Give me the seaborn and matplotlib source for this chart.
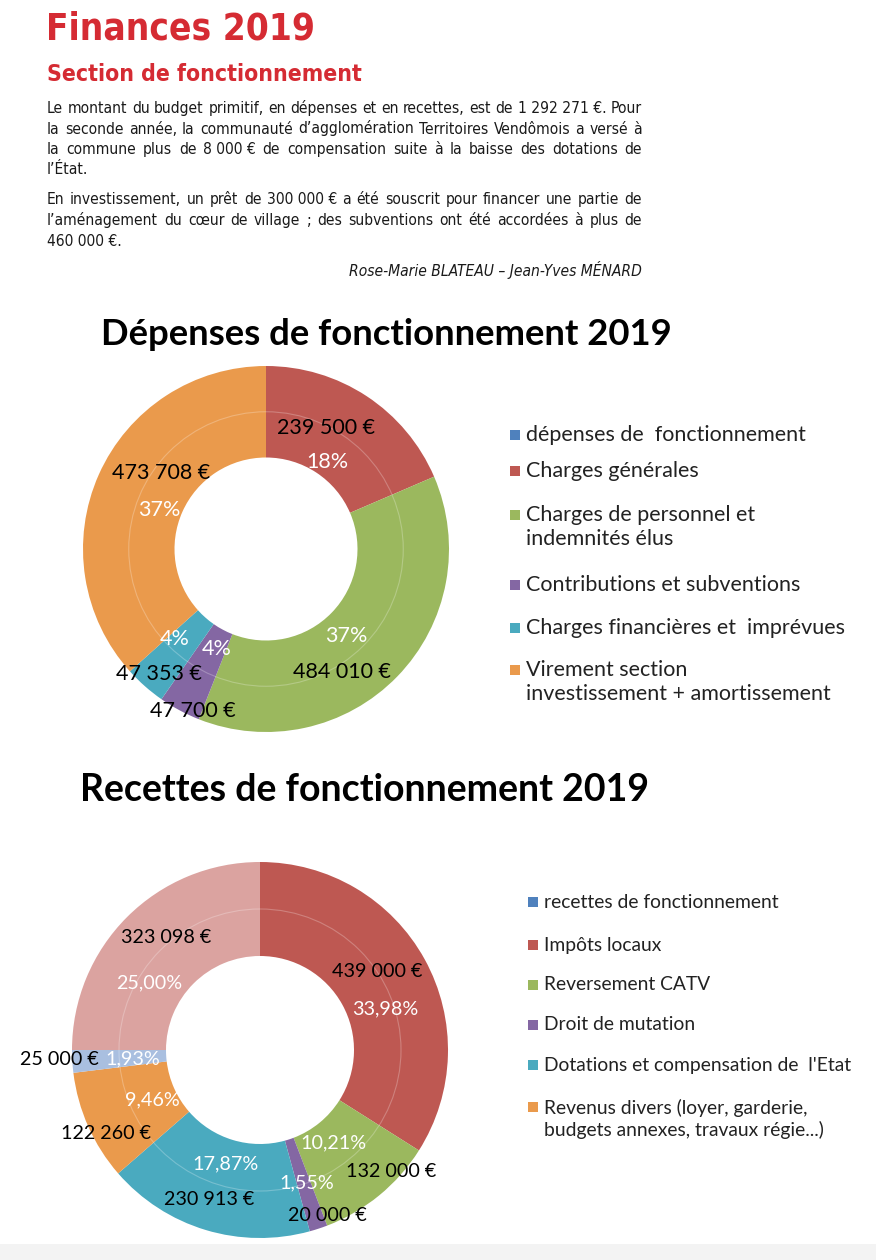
import matplotlib.pyplot as plt
import numpy as np
import seaborn as sns
from matplotlib.patches import Rectangle, Circle

W, H = 876, 1260

# --- données -------------------------------------------------------------
dep_labels = [
    "dépenses de  fonctionnement",
    "Charges générales",
    "Charges de personnel et\nindemnités élus",
    "Contributions et subventions",
    "Charges financières et  imprévues",
    "Virement section\ninvestissement + amortissement",
]
dep_values = [239500, 484010, 47700, 47353, 473708]
dep_pct = ["18%", "37%", "4%", "4%", "37%"]

rec_labels = [
    "recettes de fonctionnement",
    "Impôts locaux",
    "Reversement CATV",
    "Droit de mutation",
    "Dotations et compensation de  l'Etat",
    "Revenus divers (loyer, garderie,\nbudgets annexes, travaux régie...)",
]
rec_values = [439000, 132000, 20000, 230913, 122260, 25000, 323098]
rec_pct = ["33,98%", "10,21%", "1,55%", "17,87%", "9,46%", "1,93%", "25,00%"]

paragraph_1 = [
    "Le montant du budget primitif, en dépenses et en recettes, est de 1\u00a0292\u00a0271\u00a0€. Pour",
    "la seconde année, la communauté d’agglomération Territoires Vendômois a versé à",
    "la commune plus de 8\u00a0000\u00a0€ de compensation suite à la baisse des dotations de",
    "l’État.",
]
paragraph_2 = [
    "En investissement, un prêt de 300\u00a0000\u00a0€ a été souscrit pour financer une partie de",
    "l’aménagement du cœur de village ; des subventions ont été accordées à plus de",
    "460\u00a0000\u00a0€.",
]

# --- style ---------------------------------------------------------------
sns.set_theme(style="white")
plt.rcParams["font.family"] = ["Lato", "DejaVu Sans"]

series_blue = "#4F81BD"
dep_colors = sns.color_palette(["#BE5852", "#9BB85E", "#8467A3", "#4AAABF", "#EA9A4C"])
rec_colors = sns.color_palette(["#BE5852", "#9BB85E", "#8467A3", "#4AAABF", "#EA9A4C", "#A9BFE0", "#DBA3A0"])
red_title = "#D52B33"
narrow = dict(family=["DejaVu Sans"], stretch="condensed")

# positions des étiquettes : (rayon relatif, décalage angulaire en degrés)
dep_val_pos = [(0.74, -7), (0.79, 14), (0.97, -4), (0.90, -1), (0.71, 12)]
dep_pct_pos = [(0.58, 2), (0.645, 3), (0.61, -2), (0.70, 4), (0.62, -4)]
rec_val_pos = [(0.75, -5), (0.95, -8), (0.95, -4), (0.84, 2), (0.93, -4.5), (1.07, 0.7), (0.78, 5)]
rec_pct_pos = [(0.70, 10.6), (0.63, 1.2), (0.75, -1), (0.63, 0), (0.63, -1), (0.68, -0.5), (0.69, -14)]


def fx(x):
    return x / W


def fy(y):
    return 1 - y / H


def euro(v):
    return f"{v:,} €".replace(",", " ")


def donut(fig, cx, cy, r, values, colors, pcts, val_pos, pct_pos, size):
    s = r * 1.15
    ax = fig.add_axes([fx(cx - s), fy(cy + s), 2 * s / W, 2 * s / H])
    ax.pie(values, colors=colors, startangle=90, counterclock=False, radius=1,
           wedgeprops=dict(width=0.5, linewidth=0))
    ax.add_patch(Circle((0, 0), 0.75, fill=False, ec="white", lw=0.8, alpha=0.25))
    ax.set_xlim(-1.15, 1.15)
    ax.set_ylim(-1.15, 1.15)
    ax.axis("off")
    frac = np.array(values) / np.sum(values)
    mids = (np.cumsum(frac) - frac / 2) * 360
    for v, p, m, (rv, av), (rp, ap) in zip(values, pcts, mids, val_pos, pct_pos):
        a = np.radians(m + av)
        ax.text(rv * np.sin(a), rv * np.cos(a), euro(v), ha="center", va="center",
                fontsize=size, color="black")
        a = np.radians(m + ap)
        ax.text(rp * np.sin(a), rp * np.cos(a), p, ha="center", va="center",
                fontsize=size, color="white")
    return ax


def legend(fig, labels, colors, ys, x_sq, size):
    for lab, col, y in zip(labels, colors, ys):
        fig.patches.append(Rectangle((fx(x_sq), fy(y + 5)), 10 / W, 10 / H,
                                     transform=fig.transFigure, color=col, lw=0))
        n = lab.count("\n")
        fig.text(fx(x_sq + 16), fy(y + n * 12), lab, ha="left", va="center",
                 fontsize=size, color="#222222", linespacing=1.25)


def line_width(fig, renderer, line, **kw):
    t = fig.text(0, 0, line, **kw)
    w = t.get_window_extent(renderer).width
    t.remove()
    return w


def justify(fig, renderer, line, base, x0, x1, **kw):
    words = line.split(" ")
    texts = [fig.text(fx(x0), fy(base), w, va="baseline", **kw) for w in words]
    widths = [t.get_window_extent(renderer).width for t in texts]
    gap = (x1 - x0 - sum(widths)) / (len(words) - 1)
    x = x0
    for t, w in zip(texts, widths):
        t.set_x(fx(x))
        x += w + gap


fig = plt.figure(figsize=(W / 100, H / 100), dpi=100)
fig.patch.set_facecolor("white")
renderer = fig.canvas.get_renderer()

# --- en-tête -------------------------------------------------------------
fig.text(fx(46), fy(39), "Finances 2019", weight="bold",
         fontsize=26.5, color=red_title, va="baseline", **narrow)
fig.text(fx(47), fy(81), "Section de fonctionnement", weight="bold",
         fontsize=16.5, color=red_title, va="baseline", **narrow)

# taille du texte courant : ajustée pour que la ligne la plus longue tienne dans la colonne
body = dict(fontsize=13, color="#1a1a1a", **narrow)
widest = max(line_width(fig, renderer, l, **body) for l in paragraph_1[:-1] + paragraph_2[:-1])
body["fontsize"] = min(13, 13 * 592 / widest)

for lines, bases in [(paragraph_1, [113, 133.5, 154, 174.5]), (paragraph_2, [204, 225, 245.5])]:
    for i, (line, b) in enumerate(zip(lines, bases)):
        if i < len(lines) - 1:
            justify(fig, renderer, line, b, 47, 642, **body)
        else:
            fig.text(fx(47), fy(b), line, va="baseline", **body)
fig.text(fx(642), fy(276), "Rose-Marie BLATEAU – Jean-Yves MÉNARD", ha="right",
         va="baseline", style="italic", **body)

# --- dépenses ------------------------------------------------------------
fig.text(fx(386), fy(335), "Dépenses de fonctionnement 2019", ha="center", va="center",
         fontsize=26.3, weight="bold", color="black")
donut(fig, 266, 549, 183, dep_values, dep_colors, dep_pct, dep_val_pos, dep_pct_pos, 15.5)
legend(fig, dep_labels, [series_blue] + list(dep_colors),
       [435, 471, 515, 585, 628, 670], 510, 15.5)

# --- recettes ------------------------------------------------------------
fig.text(fx(364), fy(790), "Recettes de fonctionnement 2019", ha="center", va="center",
         fontsize=27, weight="bold", color="black")
donut(fig, 260, 1050, 188, rec_values, rec_colors, rec_pct, rec_val_pos, rec_pct_pos, 14.2)
legend(fig, rec_labels, [series_blue] + list(rec_colors[:5]),
       [902, 945, 985, 1025, 1065, 1107], 528, 13.9)

fig.patches.append(Rectangle((0, 0), 1, 16 / H, transform=fig.transFigure,
                             color="#F3F3F3", lw=0))

fig.savefig("out.png", dpi=100, facecolor="white")
